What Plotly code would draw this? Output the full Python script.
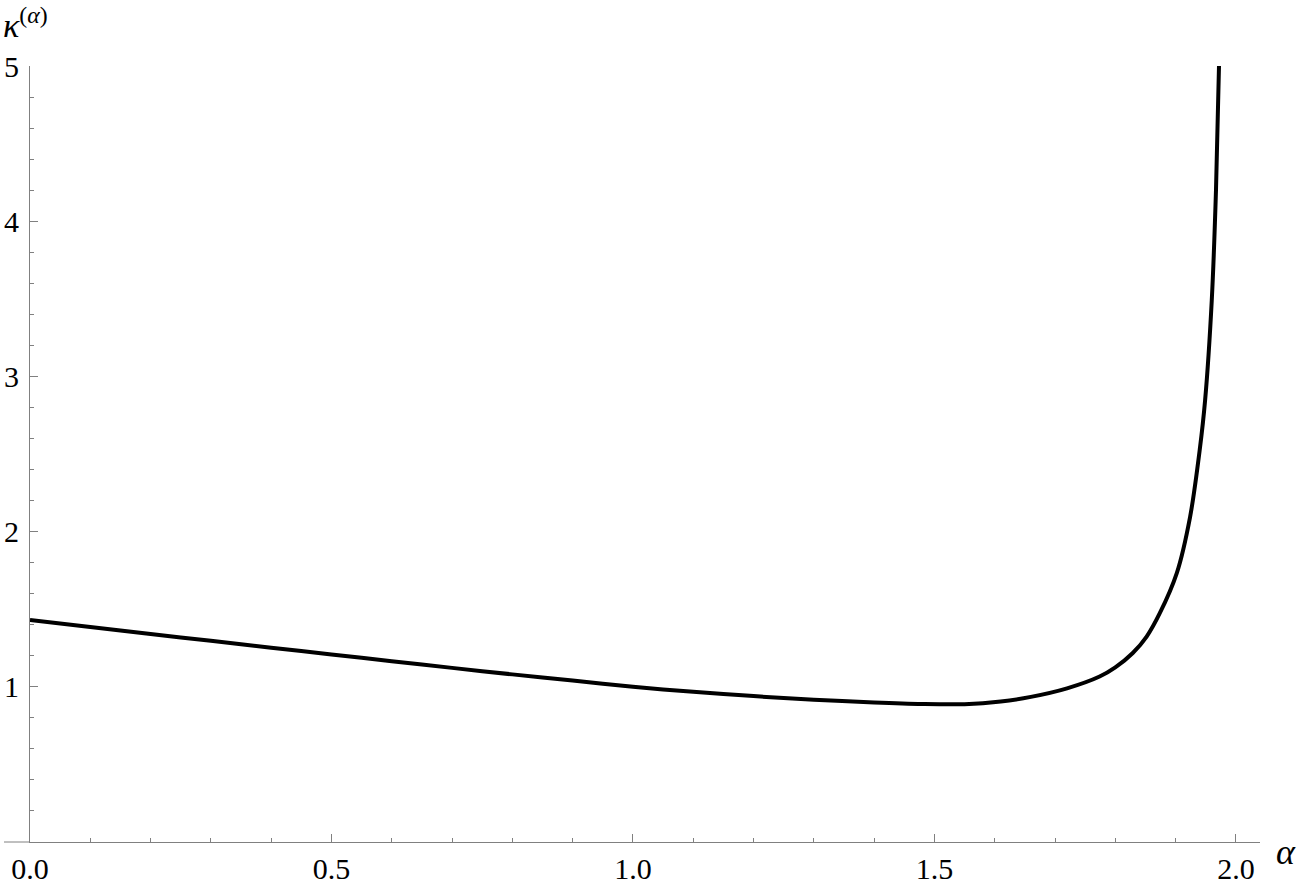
import plotly.graph_objects as go

# curve
alpha = [0.0, 0.1, 0.2, 0.3, 0.4, 0.5, 0.6, 0.7, 0.8, 0.9, 1.0, 1.1, 1.2, 1.3,
         1.4, 1.48, 1.55, 1.61, 1.66, 1.72, 1.774, 1.80, 1.829, 1.852, 1.874,
         1.902, 1.924, 1.940, 1.949, 1.960, 1.967, 1.972]
kappa = [1.43, 1.385, 1.34, 1.296, 1.252, 1.208, 1.165, 1.122, 1.08, 1.04, 1.0,
         0.968, 0.94, 0.917, 0.899, 0.889, 0.888, 0.905, 0.935, 0.99, 1.066,
         1.125, 1.218, 1.324, 1.476, 1.733, 2.094, 2.526, 2.848, 3.49, 4.2, 5.0]

x_ticks = [0.0, 0.5, 1.0, 1.5, 2.0]
y_ticks = [1, 2, 3, 4, 5]

serif = "Liberation Serif, Times New Roman, serif"
axis_grey = "#808080"

fig = go.Figure()

fig.add_trace(go.Scatter(
    x=alpha,
    y=kappa,
    mode="lines",
    line=dict(color="black", width=4, shape="spline", smoothing=0.9),
    showlegend=False,
))

fig.update_layout(
    width=1304,
    height=889,
    margin=dict(l=30, r=44, t=66, b=47, autoexpand=False),
    paper_bgcolor="white",
    plot_bgcolor="white",
    font=dict(family=serif, size=30, color="black"),
    xaxis=dict(
        range=[0, 2.04],
        tickvals=x_ticks,
        ticktext=[f"{v:.1f}" for v in x_ticks],
        ticks="inside", ticklen=8, tickcolor=axis_grey, tickwidth=1,
        minor=dict(ticks="inside", ticklen=4, dtick=0.1, tick0=0,
                   tickcolor=axis_grey),
        showline=True, linecolor=axis_grey, linewidth=1,
        showgrid=False, zeroline=False, automargin=False,
        ticklabelstandoff=0,
    ),
    yaxis=dict(
        range=[0, 5],
        tickvals=y_ticks,
        ticks="inside", ticklen=8, tickcolor=axis_grey, tickwidth=1,
        minor=dict(ticks="inside", ticklen=4, dtick=0.2, tick0=0,
                   tickcolor=axis_grey),
        showline=True, linecolor=axis_grey, linewidth=1,
        showgrid=False, zeroline=False, automargin=False,
        ticklabelstandoff=4,
    ),
)

# x axis runs a little past the y axis on the left
fig.add_shape(type="line", xref="paper", yref="paper",
              x0=-26 / 1230, x1=0, y0=0, y1=0,
              line=dict(color=axis_grey, width=1))

fig.add_annotation(
    text="<i>κ</i><sup>(<i>α</i>)</sup>",
    xref="paper", yref="paper", x=-29 / 1230, y=1 + 20 / 776,
    xanchor="left", yanchor="bottom", showarrow=False,
    font=dict(family=serif, size=34),
)
fig.add_annotation(
    text="<i>α</i>",
    xref="paper", yref="paper", x=1 + 14 / 1230, y=-10 / 776,
    xanchor="left", yanchor="middle", showarrow=False,
    font=dict(family=serif, size=36),
)

# drop the default 8px body margin so the figure sits at the page corner
fig.write_html("out.html", config={"displayModeBar": False},
               post_script="document.body.style.margin = '0';")
